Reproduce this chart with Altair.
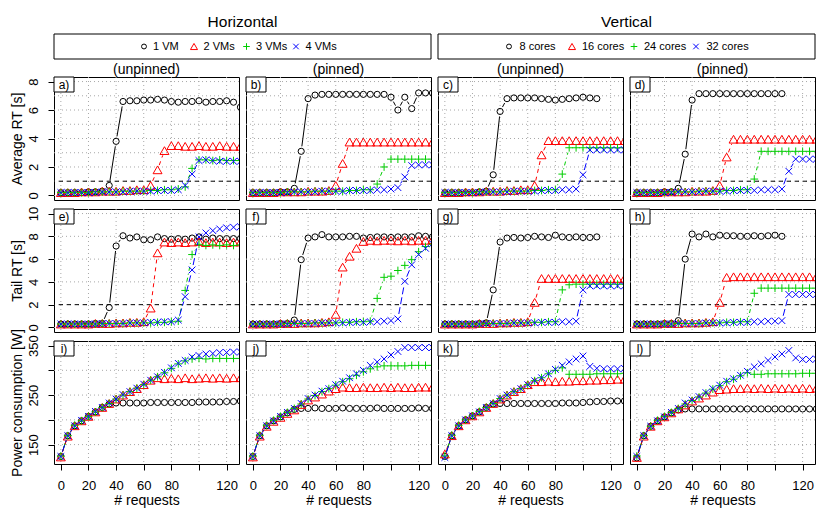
import altair as alt
import numpy as np
import pandas as pd

FONT = "Liberation Sans"

REQUESTS = [0, 5, 10, 15, 20, 25, 30, 35, 40, 45, 50, 55, 60, 65, 70, 75, 80, 85, 90,
            95, 100, 105, 110, 115, 120, 125, 130]

SERIES_H = ["1 VM", "2 VMs", "3 VMs", "4 VMs"]
SERIES_V = ["8 cores", "16 cores", "24 cores", "32 cores"]
GROUP_TITLES = ["Horizontal", "Vertical"]
COLUMN_TITLES = ["(unpinned)", "(pinned)", "(unpinned)", "(pinned)"]
PANEL_LABELS = ["a)", "b)", "c)", "d)", "e)", "f)", "g)", "h)", "i)", "j)", "k)", "l)"]
ROW_TITLES = ["Average RT [s]", "Tail RT [s]", "Power consumption [W]"]
X_TITLE = "# requests"
X_TICKS = [0, 20, 40, 60, 80, 100, 120]
Y_TICKS = [[0, 2, 4, 6, 8], [0, 2, 4, 6, 8, 10], [150, 200, 250, 300, 350]]
Y_GRID = [[0, 1, 2, 3, 4, 5, 6, 7, 8], [0, 2, 4, 6, 8, 10], [150, 200, 250, 300, 350]]
THRESHOLDS = [1, 2, None]

# ---------------- Average RT [s] ----------------
A1 = [0.2, 0.2, 0.2, 0.2, 0.25, 0.25, 0.3, 0.7, 3.8, 6.6, 6.65, 6.65, 6.7, 6.7, 6.75, 6.7, 6.6, 6.55, 6.6, 6.6, 6.65, 6.55, 6.6, 6.6, 6.65, 6.55, 6.2]
A2 = [0.2, 0.2, 0.2, 0.25, 0.25, 0.25, 0.3, 0.3, 0.3, 0.35, 0.35, 0.4, 0.4, 0.7, 1.8, 3.15, 3.5, 3.5, 3.45, 3.45, 3.5, 3.45, 3.45, 3.5, 3.45, 3.45, 3.45]
A3 = [0.2, 0.2, 0.2, 0.2, 0.2, 0.25, 0.25, 0.25, 0.25, 0.3, 0.3, 0.3, 0.3, 0.35, 0.35, 0.4, 0.4, 0.45, 0.6, 1.9, 2.5, 2.5, 2.45, 2.5, 2.45, 2.45, 2.45]
A4 = [0.2, 0.2, 0.2, 0.2, 0.2, 0.2, 0.25, 0.25, 0.25, 0.25, 0.3, 0.3, 0.3, 0.3, 0.35, 0.35, 0.35, 0.4, 0.7, 1.5, 2.45, 2.5, 2.45, 2.4, 2.4, 2.4, 2.4]

B1 = [0.2, 0.2, 0.2, 0.2, 0.25, 0.25, 0.5, 3.1, 6.8, 7.05, 7.1, 7.1, 7.1, 7.1, 7.1, 7.1, 7.1, 7.1, 7.1, 7.1, 6.9, 6.0, 6.9, 6.1, 7.2, 7.2, 7.2]
B2 = [0.2, 0.2, 0.2, 0.2, 0.25, 0.25, 0.25, 0.25, 0.3, 0.3, 0.3, 0.35, 0.7, 2.25, 3.75, 3.75, 3.75, 3.75, 3.75, 3.75, 3.75, 3.75, 3.75, 3.75, 3.75, 3.75, 3.75]
B3 = [0.2, 0.2, 0.2, 0.2, 0.2, 0.25, 0.25, 0.25, 0.25, 0.3, 0.3, 0.3, 0.3, 0.3, 0.35, 0.35, 0.4, 0.4, 0.8, 2.0, 2.55, 2.55, 2.55, 2.55, 2.55, 2.55, 2.55]
B4 = [0.2, 0.2, 0.2, 0.2, 0.2, 0.2, 0.25, 0.25, 0.25, 0.25, 0.3, 0.3, 0.3, 0.3, 0.35, 0.35, 0.35, 0.35, 0.4, 0.4, 0.45, 0.55, 1.3, 2.1, 2.15, 2.15, 2.15]

C1 = [0.2, 0.2, 0.2, 0.2, 0.2, 0.25, 0.3, 1.45, 5.9, 6.8, 6.85, 6.85, 6.85, 6.85, 6.8, 6.75, 6.7, 6.75, 6.8, 6.85, 6.9, 6.85, 6.8, None, None, None, None]
C2 = [0.2, 0.2, 0.2, 0.25, 0.25, 0.25, 0.3, 0.3, 0.3, 0.35, 0.35, 0.4, 0.4, 0.7, 2.85, 3.85, 3.85, 3.85, 3.85, 3.85, 3.85, 3.85, 3.85, 3.85, 3.85, 3.85, 3.85]
C3 = [0.2, 0.2, 0.2, 0.2, 0.2, 0.25, 0.25, 0.25, 0.25, 0.3, 0.3, 0.3, 0.3, 0.35, 0.35, 0.4, 0.4, 1.5, 3.35, 3.35, 3.35, 3.35, 3.35, 3.35, 3.35, 3.35, 3.35]
C4 = [0.2, 0.2, 0.2, 0.2, 0.2, 0.2, 0.25, 0.25, 0.25, 0.25, 0.3, 0.3, 0.3, 0.3, 0.35, 0.35, 0.35, 0.4, 0.4, 0.45, 1.45, 3.2, 3.2, 3.2, 3.2, 3.2, 3.2]

D1 = [0.2, 0.2, 0.2, 0.2, 0.25, 0.25, 0.5, 2.9, 6.7, 7.15, 7.15, 7.15, 7.15, 7.15, 7.15, 7.15, 7.15, 7.15, 7.15, 7.15, 7.15, 7.15, None, None, None, None, None]
D2 = [0.2, 0.2, 0.2, 0.2, 0.25, 0.25, 0.25, 0.25, 0.3, 0.3, 0.3, 0.35, 0.7, 2.7, 3.95, 3.95, 3.95, 3.95, 3.95, 3.95, 3.95, 3.95, 3.95, 3.95, 3.95, 3.95, 3.95]
D3 = [0.2, 0.2, 0.2, 0.2, 0.2, 0.25, 0.25, 0.25, 0.25, 0.3, 0.3, 0.3, 0.3, 0.35, 0.35, 0.4, 0.4, 1.15, 3.1, 3.1, 3.1, 3.1, 3.1, 3.1, 3.1, 3.1, 3.1]
D4 = [0.2, 0.2, 0.2, 0.2, 0.2, 0.2, 0.25, 0.25, 0.25, 0.25, 0.3, 0.3, 0.3, 0.3, 0.35, 0.35, 0.35, 0.35, 0.4, 0.4, 0.4, 0.45, 1.7, 2.55, 2.55, 2.55, 2.55]

# ---------------- Tail RT [s] ----------------
E1 = [0.3, 0.3, 0.3, 0.3, 0.3, 0.35, 0.35, 1.75, 7.15, 8.05, 7.85, 7.95, 7.7, 7.7, 7.95, 7.8, 7.75, 7.8, 7.75, 7.85, 7.95, 7.75, 7.85, 7.8, 7.8, 7.8, 7.8]
E2 = [0.3, 0.3, 0.3, 0.3, 0.3, 0.35, 0.35, 0.35, 0.4, 0.4, 0.45, 0.45, 0.5, 1.7, 6.55, 7.5, 7.45, 7.5, 7.45, 7.5, 7.55, 7.45, 7.5, 7.5, 7.45, 7.5, 7.5]
E3 = [0.3, 0.3, 0.3, 0.3, 0.3, 0.3, 0.35, 0.35, 0.35, 0.35, 0.4, 0.4, 0.4, 0.4, 0.45, 0.45, 0.5, 0.55, 3.25, 6.4, 7.3, 7.2, 7.25, 7.2, 7.25, 7.2, 7.25]
E4 = [0.3, 0.3, 0.3, 0.3, 0.3, 0.3, 0.35, 0.35, 0.35, 0.35, 0.4, 0.4, 0.4, 0.45, 0.45, 0.5, 0.5, 0.65, 2.7, 5.05, 7.95, 8.3, 8.5, 8.65, 8.75, 8.8, 8.85]

F1 = [0.3, 0.3, 0.3, 0.3, 0.35, 0.35, 0.65, 5.95, 7.85, 7.95, 8.15, 7.95, 7.95, 7.95, 8.0, 8.0, 7.85, 7.9, 7.95, 7.95, 7.9, 7.95, 7.95, 7.95, 8.05, 8.0, 7.95]
F2 = [0.3, 0.3, 0.3, 0.3, 0.35, 0.35, 0.35, 0.4, 0.4, 0.4, 0.45, 0.5, 1.15, 5.3, 6.25, 6.95, 7.55, 7.65, 7.6, 7.65, 7.65, 7.6, 7.65, 7.6, 7.65, 7.65, 7.7]
F3 = [0.3, 0.3, 0.3, 0.3, 0.3, 0.35, 0.35, 0.35, 0.35, 0.4, 0.4, 0.4, 0.4, 0.45, 0.45, 0.5, 0.5, 0.55, 2.55, 4.4, 4.5, 5.0, 5.45, 5.95, 6.65, 7.1, 7.3]
F4 = [0.3, 0.3, 0.3, 0.3, 0.3, 0.3, 0.35, 0.35, 0.35, 0.35, 0.4, 0.4, 0.4, 0.4, 0.45, 0.45, 0.45, 0.5, 0.5, 0.55, 0.6, 0.75, 4.05, 5.5, 6.4, 6.95, 7.35]

G1 = [0.3, 0.3, 0.3, 0.3, 0.3, 0.35, 0.4, 3.3, 7.5, 7.85, 7.9, 7.85, 7.9, 8.0, 7.95, 7.9, 8.1, 7.95, 7.9, 7.95, 7.9, 7.9, 7.95, None, None, None, None]
G2 = [0.3, 0.3, 0.3, 0.3, 0.3, 0.35, 0.35, 0.35, 0.4, 0.4, 0.45, 0.45, 0.5, 2.2, 4.3, 4.3, 4.3, 4.3, 4.3, 4.3, 4.3, 4.3, 4.3, 4.3, 4.3, 4.3, 4.3]
G3 = [0.3, 0.3, 0.3, 0.3, 0.3, 0.3, 0.35, 0.35, 0.35, 0.35, 0.4, 0.4, 0.4, 0.45, 0.45, 0.5, 0.5, 3.3, 3.75, 3.8, 3.8, 3.8, 3.8, 3.8, 3.8, 3.8, 3.8]
G4 = [0.3, 0.3, 0.3, 0.3, 0.3, 0.3, 0.35, 0.35, 0.35, 0.35, 0.4, 0.4, 0.4, 0.4, 0.45, 0.45, 0.45, 0.5, 0.5, 0.55, 3.3, 3.65, 3.65, 3.65, 3.65, 3.65, 3.65]

H1 = [0.3, 0.3, 0.3, 0.3, 0.35, 0.35, 0.6, 6.0, 8.2, 7.95, 8.2, 7.95, 8.1, 8.05, 8.05, 8.0, 8.0, 8.05, 8.0, 8.05, 8.1, 8.0, None, None, None, None, None]
H2 = [0.3, 0.3, 0.3, 0.3, 0.35, 0.35, 0.35, 0.4, 0.4, 0.4, 0.45, 0.5, 2.2, 4.4, 4.45, 4.45, 4.45, 4.45, 4.45, 4.45, 4.45, 4.45, 4.45, 4.45, 4.45, 4.45, 4.45]
H3 = [0.3, 0.3, 0.3, 0.3, 0.3, 0.3, 0.35, 0.35, 0.35, 0.35, 0.4, 0.4, 0.4, 0.45, 0.45, 0.5, 0.5, 3.0, 3.45, 3.45, 3.45, 3.45, 3.45, 3.45, 3.45, 3.45, 3.45]
H4 = [0.3, 0.3, 0.3, 0.3, 0.3, 0.3, 0.35, 0.35, 0.35, 0.35, 0.4, 0.4, 0.4, 0.4, 0.45, 0.45, 0.45, 0.5, 0.5, 0.55, 0.55, 0.6, 2.9, 2.9, 2.9, 2.9, 2.9]

# ---------------- Power consumption [W] ----------------
I1 = [126, 168, 188, 198, 207, 216, 225, 232, 234, 234, 234, 234, 234, 235, 235, 235, 235, 235, 235, 235, 236, 236, 236, 236, 237, 237, 238]
I2 = [125, 167, 188, 198, 207, 216, 225, 233, 242, 250, 257, 263, 271, 280, 285, 283, 284, 283, 285, 283, 284, 285, 284, 285, 284, 285, 285]
I3 = [127, 168, 189, 198, 207, 216, 225, 233, 242, 250, 257, 264, 271, 280, 287, 295, 304, 313, 319, 323, 324, 323, 324, 324, 324, 324, 324]
I4 = [126, 168, 188, 199, 207, 217, 225, 234, 242, 251, 257, 264, 272, 280, 287, 296, 305, 314, 320, 327, 330, 333, 334, 336, 336, 337, 337]

J1 = [126, 168, 188, 198, 206, 214, 221, 223, 223, 224, 223, 223, 223, 224, 223, 223, 223, 223, 224, 223, 223, 223, 223, 223, 224, 223, 223]
J2 = [125, 167, 187, 197, 205, 213, 220, 231, 240, 246, 252, 258, 263, 266, 265, 265, 266, 265, 265, 266, 265, 266, 265, 265, 266, 266, 266]
J3 = [127, 169, 189, 199, 207, 215, 223, 232, 242, 249, 257, 263, 270, 277, 283, 290, 297, 303, 307, 309, 309, 309, 309, 310, 310, 310, 310]
J4 = [126, 168, 188, 198, 207, 215, 223, 233, 243, 250, 258, 263, 271, 278, 285, 293, 300, 310, 317, 323, 331, 338, 346, 346, 346, 346, 346]

K1 = [126, 168, 188, 200, 208, 216, 225, 232, 233, 233, 233, 233, 233, 233, 233, 233, 233, 234, 234, 234, 235, 236, 237, 237, 238, 238, 238]
K2 = [131, 168, 188, 200, 208, 216, 225, 233, 242, 250, 257, 263, 271, 277, 277, 278, 277, 278, 278, 279, 279, 280, 280, 281, 281, 282, 282]
K3 = [127, 169, 189, 200, 208, 217, 225, 233, 243, 250, 257, 263, 271, 279, 285, 293, 300, 305, 292, 292, 292, 292, 293, 293, 293, 293, 294]
K4 = [124, 168, 188, 200, 208, 216, 225, 233, 243, 250, 257, 263, 271, 279, 285, 293, 302, 310, 317, 323, 329, 308, 304, 303, 303, 303, 304]

L1 = [123, 168, 187, 198, 206, 214, 220, 222, 222, 222, 222, 222, 222, 222, 222, 222, 222, 222, 222, 222, 222, 222, 222, 222, 222, 222, 222]
L2 = [124, 167, 187, 198, 206, 214, 222, 230, 238, 244, 250, 256, 261, 262, 263, 263, 264, 263, 264, 263, 264, 263, 264, 263, 264, 263, 264]
L3 = [127, 168, 187, 199, 207, 215, 223, 232, 239, 246, 254, 262, 269, 277, 282, 289, 295, 292, 292, 293, 293, 293, 293, 293, 294, 294, 294]
L4 = [126, 168, 187, 198, 206, 215, 223, 234, 240, 247, 255, 263, 270, 278, 283, 290, 298, 307, 313, 320, 327, 333, 340, 325, 322, 322, 323]

PANEL_DATA = [
    [A1, A2, A3, A4], [B1, B2, B3, B4], [C1, C2, C3, C4], [D1, D2, D3, D4],
    [E1, E2, E3, E4], [F1, F2, F3, F4], [G1, G2, G3, G4], [H1, H2, H3, H4],
    [I1, I2, I3, I4], [J1, J2, J3, J4], [K1, K2, K3, K4], [L1, L2, L3, L4],
]
for grp in PANEL_DATA:
    for s in grp:
        assert len(s) == len(REQUESTS)

# ---------------- styles ----------------
COLORS = ["#000000", "#FF0000", "#00CD00", "#0000FF"]
SHAPES = ["circle", "triangle-up", "M-1,0L1,0M0,-1L0,1", "M-1,-1L1,1M-1,1L1,-1"]
SIZES = [38, 80, 60, 45]
LEG_SIZES = [24, 50, 44, 30]
DASHES = [None, [4, 4], [1, 3, 4, 3], [7, 3]]
GRID_COLOR = "#a8a8a8"
W, H = 185, 123
X_DOMAIN = [-4.96, 128.96]
Y_DOMAINS = [[-0.32, 8.32], [-0.4, 10.4], [110.8, 359.2]]
GAP = 5.0
# annotation placement, in pixels relative to the top-left corner of a panel
COL_TITLE_Y = -3.5
LEG_W = 377
LEG_TOP, LEG_BOTTOM = -43, -18
LEG_TITLE_Y = -50.5
LEG_SYM_X = [[90, 140, 192.5, 242], [71, 134, 196, 258]]
LEG_TXT_X = [[99, 149.5, 202, 251.5], [81.5, 144, 206, 268.5]]


def segments(xs, ys, ydom):
    """type='b' style line pieces: shortened around each point, dropped when too short."""
    sx = W / (X_DOMAIN[1] - X_DOMAIN[0])
    sy = H / (ydom[1] - ydom[0])
    rows = []
    for i in range(len(xs) - 1):
        x1, y1, x2, y2 = xs[i], ys[i], xs[i + 1], ys[i + 1]
        if y1 is None or y2 is None:
            continue
        dx, dy = x2 - x1, y2 - y1
        L = float(np.hypot(dx * sx, dy * sy))
        if L <= 2 * GAP:
            continue
        f = GAP / L
        rows.append(dict(x=x1 + f * dx, y=y1 + f * dy, x2=x2 - f * dx, y2=y2 - f * dy))
    return pd.DataFrame(rows, columns=["x", "y", "x2", "y2"])


def x_axis(show):
    if not show:
        return None
    return alt.Axis(values=X_TICKS, title=X_TITLE, grid=False, domain=False,
                    tickSize=6, tickColor="black", labelFontSize=13, labelPadding=9,
                    labelColor="black", labelFont=FONT, labelFlush=False, labelOverlap=False,
                    labelExpr="datum.value == 100 ? '' : datum.label",
                    titleFont=FONT, titleFontSize=14, titleFontWeight="normal",
                    titlePadding=1, titleColor="black")


def y_axis(r):
    kw = dict(values=Y_TICKS[r], title=ROW_TITLES[r], grid=False, domain=False,
              tickSize=6, tickColor="black", labelAngle=270, labelAlign="center",
              labelBaseline="bottom", labelPadding=8, labelFontSize=13, labelColor="black",
              labelFont=FONT, labelFlush=False, labelOverlap=False,
              titleFont=FONT, titleFontSize=14, titleFontWeight="normal",
              titlePadding=3, titleColor="black")
    if r == 2:
        kw["labelExpr"] = "datum.value % 100 == 50 ? datum.label : ''"
    return alt.Axis(**kw)


def legend_layers(g):
    labels = SERIES_H if g == 0 else SERIES_V
    base = alt.Chart(pd.DataFrame({"a": [0]}))
    mid = (LEG_TOP + LEG_BOTTOM) / 2
    layers = [
        base.mark_rect(fill="white", stroke="black", strokeWidth=1).encode(
            x=alt.value(0), x2=alt.value(LEG_W), y=alt.value(LEG_TOP), y2=alt.value(LEG_BOTTOM)),
        base.mark_text(text=GROUP_TITLES[g], align="center", baseline="alphabetic",
                       fontSize=15.5, font=FONT, color="black").encode(
            x=alt.value(LEG_W / 2), y=alt.value(LEG_TITLE_Y)),
    ]
    for i, lab in enumerate(labels):
        layers.append(base.mark_point(
            shape=SHAPES[i], filled=False, color=COLORS[i], size=LEG_SIZES[i],
            strokeWidth=1, opacity=1).encode(x=alt.value(LEG_SYM_X[g][i]), y=alt.value(mid)))
        layers.append(base.mark_text(
            text=lab, align="left", baseline="middle", fontSize=11, font=FONT,
            color="black").encode(x=alt.value(LEG_TXT_X[g][i]), y=alt.value(mid)))
    return layers


def panel(r, c):
    ydom = Y_DOMAINS[r]
    xs = alt.Scale(domain=X_DOMAIN, nice=False, zero=False)
    ys = alt.Scale(domain=ydom, nice=False, zero=False)
    xa = x_axis(r == 2)
    ya = y_axis(r) if c == 0 else None

    def X(f):
        return alt.X(f, type="quantitative", scale=xs, axis=xa)

    def Y(f):
        return alt.Y(f, type="quantitative", scale=ys, axis=ya)

    layers = [
        alt.Chart(pd.DataFrame({"v": X_TICKS})).mark_rule(
            color=GRID_COLOR, strokeDash=[1, 3], strokeWidth=1).encode(x=X("v")),
        alt.Chart(pd.DataFrame({"v": Y_GRID[r]})).mark_rule(
            color=GRID_COLOR, strokeDash=[1, 3], strokeWidth=1).encode(y=Y("v")),
    ]
    if THRESHOLDS[r] is not None:
        layers.append(alt.Chart(pd.DataFrame({"v": [THRESHOLDS[r]]})).mark_rule(
            color="black", strokeDash=[4, 4], strokeWidth=1).encode(y=Y("v")))
    for i, vals in enumerate(PANEL_DATA[r * 4 + c]):
        seg = segments(REQUESTS, vals, ydom)
        if len(seg):
            kw = dict(color=COLORS[i], strokeWidth=1, clip=True)
            if DASHES[i]:
                kw["strokeDash"] = DASHES[i]
            layers.append(alt.Chart(seg).mark_rule(**kw).encode(
                x=X("x"), x2="x2", y=Y("y"), y2="y2"))
        pts = pd.DataFrame({"x": REQUESTS, "y": vals}).dropna()
        layers.append(alt.Chart(pts).mark_point(
            shape=SHAPES[i], filled=False, color=COLORS[i], size=SIZES[i],
            strokeWidth=1, opacity=1, clip=True).encode(x=X("x"), y=Y("y")))
    one = pd.DataFrame({"t": [PANEL_LABELS[r * 4 + c]]})
    layers.append(alt.Chart(one).mark_rect(fill="white", stroke="black", strokeWidth=1).encode(
        x=alt.value(0), x2=alt.value(20), y=alt.value(0), y2=alt.value(15)))
    layers.append(alt.Chart(one).mark_text(
        fontSize=12, font=FONT, color="black", align="center", baseline="middle").encode(
        text="t:N", x=alt.value(10), y=alt.value(8)))
    if r == 0:
        layers.append(alt.Chart(pd.DataFrame({"t": [COLUMN_TITLES[c]]})).mark_text(
            fontSize=14, font=FONT, color="black", align="center", baseline="alphabetic").encode(
            text="t:N", x=alt.value(W / 2), y=alt.value(COL_TITLE_Y)))
        if c in (0, 2):
            layers += legend_layers(c // 2)
    return alt.layer(*layers).properties(width=W, height=H)


panels = [panel(r, c) for r in range(3) for c in range(4)]

chart = alt.concat(*panels, columns=4, spacing={"row": 9, "column": 7}, bounds="flush").properties(
    padding={"left": 1, "top": 6, "right": 0, "bottom": 0},
    background="white",
).configure_view(stroke="black", strokeWidth=1)

chart.save("out.html", embed_options={"renderer": "svg", "actions": False})
